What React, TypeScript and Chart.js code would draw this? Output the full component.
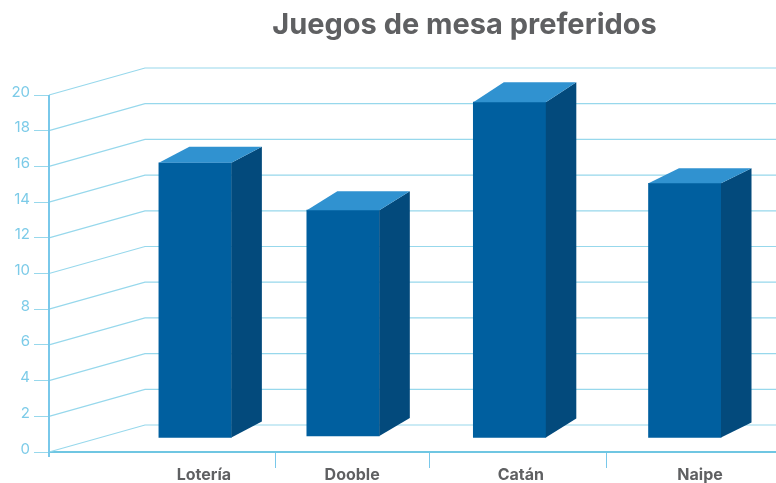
import React, { useEffect, useRef } from "react";
import { Chart, registerables } from "chart.js";

Chart.register(...registerables);

const chartTitle = "Juegos de mesa preferidos";
const categories = ["Lotería", "Dooble", "Catán", "Naipe"];
// Horizontal axis is measured in percent of its length, because the picture's groups are unevenly spaced.
const barPositions = [20.1, 40.45, 63.35, 87.45];
const labelPositions = [21.3, 41.7, 64.9, 89.55];
const separatorPositions = [31.1, 52.3, 76.75];
const barTops = [16.2, 13.55, 19.6, 15.05];
const barBases = [0.81, 0.9, 0.81, 0.81];
const yTickLabels = [0, 2, 4, 6, 8, 10, 12, 14, 16, 18, 20];

const FONT = "Inter";
const FRONT = "#005f9f";
const SIDE = "#034a7c";
const TOP = "#3092d0";
const GRID = "#97d8ec";
const AXIS = "#79c8ea";
const TICK_TEXT = "#7ccbe8";
const GREY = "#5f6062";

const WALL_DX = 96;
const WALL_DY = 27;
const BAR_DX = 30.5;
const BAR_DY_TOP = [16, 19, 20, 15];
const BAR_DY_BOTTOM = [16, 18, 19, 15];

const cabinetPlugin = {
  id: "cabinet",
  afterLayout(chart: any) {
    // the title is centred to the right of the canvas centre in the picture
    if (chart.titleBlock) chart.titleBlock.left = 153;
  },
  beforeDatasetsDraw(chart: any) {
    const { ctx, chartArea, scales } = chart;
    ctx.save();
    ctx.strokeStyle = GRID;
    ctx.lineWidth = 1.2;
    for (const t of scales.y.ticks) {
      const y = scales.y.getPixelForValue(t.value);
      ctx.beginPath();
      ctx.moveTo(chartArea.left, y);
      ctx.lineTo(chartArea.left + WALL_DX, y - WALL_DY);
      ctx.lineTo(chartArea.right, y - WALL_DY);
      ctx.stroke();
    }
    // the vertical axis line runs a little below zero
    ctx.strokeStyle = AXIS;
    ctx.lineWidth = 2;
    ctx.beginPath();
    ctx.moveTo(chartArea.left, chartArea.top);
    ctx.lineTo(chartArea.left, chartArea.bottom + 5);
    ctx.stroke();
    ctx.restore();
  },
  afterDatasetsDraw(chart: any) {
    const { ctx } = chart;
    const meta = chart.getDatasetMeta(0);
    ctx.save();
    meta.data.forEach((bar: any, i: number) => {
      const { x, y, base, width } = bar.getProps(["x", "y", "base", "width"], true);
      const r = x + width / 2;
      const l = x - width / 2;
      const dt = BAR_DY_TOP[i];
      const db = BAR_DY_BOTTOM[i];
      ctx.fillStyle = SIDE;
      ctx.beginPath();
      ctx.moveTo(r, y);
      ctx.lineTo(r + BAR_DX, y - dt);
      ctx.lineTo(r + BAR_DX, base - db);
      ctx.lineTo(r, base);
      ctx.closePath();
      ctx.fill();
      ctx.fillStyle = TOP;
      ctx.beginPath();
      ctx.moveTo(l, y);
      ctx.lineTo(l + BAR_DX, y - dt);
      ctx.lineTo(r + BAR_DX, y - dt);
      ctx.lineTo(r, y);
      ctx.closePath();
      ctx.fill();
    });
    ctx.restore();
  },
};

export default function App() {
  const ref = useRef<HTMLCanvasElement>(null);
  useEffect(() => {
    document.body.style.margin = "0";
    const chart = new Chart(ref.current as HTMLCanvasElement, {
      type: "bar",
      data: {
        datasets: [
          {
            label: "Juegos",
            data: barPositions.map((x, i) => ({ x, y: [barBases[i], barTops[i]] })) as any,
            backgroundColor: FRONT,
            borderWidth: 0,
            barThickness: 72.5,
          },
        ],
      },
      options: {
        animation: false,
        responsive: false,
        layout: { padding: 0 },
        plugins: {
          legend: { display: false },
          tooltip: { enabled: false },
          title: {
            display: true,
            text: chartTitle,
            color: GREY,
            align: "center",
            font: { family: FONT, size: 29, weight: "bold" },
            padding: { top: 8, bottom: 52.2 },
          },
        },
        scales: {
          x: {
            type: "linear",
            offset: false,
            min: 0,
            max: 100,
            afterFit(s: any) {
              s.height = 31;
            },
            afterBuildTicks(s: any) {
              s.ticks = [...labelPositions, ...separatorPositions]
                .sort((a, b) => a - b)
                .map((value) => ({ value }));
            },
            border: { display: true, color: "#6fc6e2", width: 2 },
            grid: {
              offset: false,
              drawOnChartArea: false,
              drawTicks: true,
              tickLength: 16,
              tickWidth: 1,
              tickColor: (c: any) =>
                separatorPositions.includes(c.tick?.value) ? AXIS : "rgba(0,0,0,0)",
            },
            ticks: {
              autoSkip: false,
              maxRotation: 0,
              padding: -2,
              color: GREY,
              font: { family: FONT, size: 16, weight: "bold" },
              callback: (v: any) => {
                const i = labelPositions.indexOf(v);
                return i >= 0 ? categories[i] : "";
              },
            },
          },
          y: {
            type: "linear",
            min: 0,
            max: 20,
            afterFit(s: any) {
              s.width = 49;
            },
            afterBuildTicks(s: any) {
              s.ticks = yTickLabels.map((value) => ({ value }));
            },
            border: { display: false },
            grid: {
              drawOnChartArea: false,
              drawTicks: true,
              tickLength: 15,
              tickColor: GRID,
            },
            ticks: {
              padding: 4,
              labelOffset: -3,
              color: TICK_TEXT,
              font: { family: FONT, size: 15 },
            },
          },
        },
      },
      plugins: [cabinetPlugin],
    } as any);
    return () => chart.destroy();
  }, []);
  return (
    <div style={{ width: 776, height: 483 }}>
      <canvas ref={ref} width={776} height={483} style={{ display: "block" }} />
    </div>
  );
}
